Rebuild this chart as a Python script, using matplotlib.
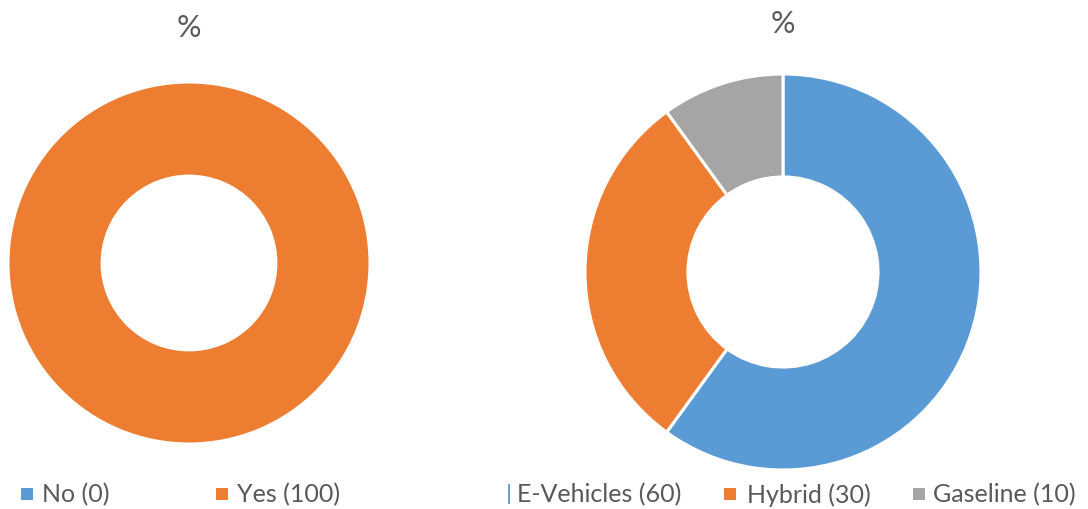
import matplotlib.pyplot as plt
from matplotlib.lines import Line2D

plt.rcParams['font.family'] = ['Lato', 'DejaVu Sans']

# left chart
left_labels = ['No', 'Yes']
left_values = [0, 100]
left_colors = ['#5B9BD5', '#ED7D31']

# right chart
right_labels = ['E-Vehicles', 'Hybrid', 'Gaseline']
right_values = [60, 30, 10]
right_colors = ['#5B9BD5', '#ED7D31', '#A5A5A5']

TXT = '#595959'
W, H = 1088, 510

fig = plt.figure(figsize=(W / 100, H / 100), dpi=100)


def donut(cx, cy, r, values, colors):
    ax = fig.add_axes([(cx - r) / W, (H - cy - r) / H, 2 * r / W, 2 * r / H])
    ax.pie(values, colors=colors, startangle=90, counterclock=False, radius=1,
           wedgeprops=dict(width=0.52, edgecolor='white', linewidth=2.2))
    ax.set_xlim(-1, 1)
    ax.set_ylim(-1, 1)
    ax.set_aspect('equal')
    ax.axis('off')
    return ax


donut(189, 264, 181, left_values, left_colors)
donut(783, 273, 198, right_values, right_colors)

fig.text(189 / W, 1 - 28 / H, '%', ha='center', va='center', fontsize=22, color=TXT)
fig.text(783 / W, 1 - 24 / H, '%', ha='center', va='center', fontsize=22, color=TXT)


def legend(labels, values, colors, marker_x, text_x, markers, y=495):
    for l, v, c, mx, tx, m in zip(labels, values, colors, marker_x, text_x, markers):
        fig.add_artist(Line2D([mx / W], [1 - y / H], marker=m, linestyle='', color=c,
                              markersize=8 if m == 's' else 15,
                              markeredgewidth=1.3 if m == '|' else 0,
                              transform=fig.transFigure))
        fig.text(tx / W, 1 - y / H, '%s (%d)' % (l, v), ha='left', va='center',
                 fontsize=18, color=TXT)


legend(left_labels, left_values, left_colors, [27, 222], [42, 237], ['s', 's'])
legend(right_labels, right_values, right_colors, [509, 730, 919], [517, 747, 933],
       ['|', 's', 's'])

fig.savefig('out.png', dpi=100)
